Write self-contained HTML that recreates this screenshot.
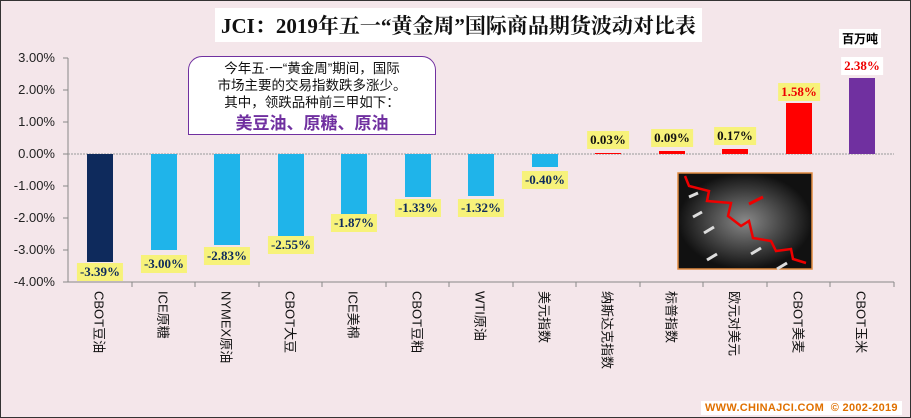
<!DOCTYPE html>
<html><head><meta charset="utf-8"><style>
body{margin:0}
#c{position:relative;width:909px;height:416px;border:1px solid #333;background:#f4e6ea;overflow:hidden;font-family:"Liberation Sans","Noto Sans CJK SC",sans-serif}
.t{position:absolute;left:214px;top:7px;background:#fff;padding:2px 6px;font:bold 21px "Liberation Serif","Noto Serif CJK SC",serif;color:#111;white-space:nowrap}
.yl{position:absolute;left:4px;width:50px;text-align:right;font-size:13px;color:#222}
.bar{position:absolute;width:26px}
.v{position:absolute;background:#f7f27a;font:bold 13px "Liberation Serif",serif;padding:1px 3px;white-space:nowrap;transform:translateX(-50%)}
.xl{position:absolute;top:290px;writing-mode:vertical-rl;text-orientation:sideways;font-size:13px;color:#111;transform:translateX(-50%)}
.box{position:absolute;left:187px;top:55px;width:248px;height:79px;background:#fff;border:1px solid #7030a0;border-radius:14px 14px 0 0;text-align:center;font-size:13.5px;line-height:17px;color:#111;padding-top:3px;box-sizing:border-box}
</style></head><body><div id="c">
<div class="t">JCI：2019年五一“黄金周”国际商品期货波动对比表</div>
<div style="position:absolute;left:838px;top:28px;font:bold 12px 'Liberation Sans','Noto Sans CJK SC',sans-serif;background:#fff;padding:1px 3px">百万吨</div>
<svg style="position:absolute;left:0;top:0" width="909" height="416">
<line x1="67" y1="57" x2="67" y2="281" stroke="#888"/>
<g stroke="#888">
<line x1="62" y1="57" x2="67" y2="57"/><line x1="62" y1="89" x2="67" y2="89"/><line x1="62" y1="121" x2="67" y2="121"/><line x1="62" y1="153" x2="67" y2="153"/><line x1="62" y1="185" x2="67" y2="185"/><line x1="62" y1="217" x2="67" y2="217"/><line x1="62" y1="249" x2="67" y2="249"/><line x1="62" y1="281" x2="67" y2="281"/>
</g>
<line x1="67" y1="153" x2="893" y2="153" stroke="#999" stroke-dasharray="2,1"/>
<line x1="67" y1="281" x2="893" y2="281" stroke="#888"/>
<g stroke="#888">
<line x1="131" y1="281" x2="131" y2="286"/><line x1="194" y1="281" x2="194" y2="286"/><line x1="258" y1="281" x2="258" y2="286"/><line x1="321" y1="281" x2="321" y2="286"/><line x1="385" y1="281" x2="385" y2="286"/><line x1="448" y1="281" x2="448" y2="286"/><line x1="512" y1="281" x2="512" y2="286"/><line x1="575" y1="281" x2="575" y2="286"/><line x1="639" y1="281" x2="639" y2="286"/><line x1="702" y1="281" x2="702" y2="286"/><line x1="766" y1="281" x2="766" y2="286"/><line x1="829" y1="281" x2="829" y2="286"/><line x1="893" y1="281" x2="893" y2="286"/>
</g>
<defs><radialGradient id="g"><stop offset="0" stop-color="#888"/><stop offset="1" stop-color="#111"/></radialGradient></defs>
<rect x="677" y="172" width="134" height="96" fill="url(#g)" stroke="#e08a40" stroke-width="1.5"/>
<polyline points="684,175 688,185 708,190 706,200 730,202 727,215 740,225 748,220 752,237 770,240 775,250 790,248 792,258 805,262" fill="none" stroke="#e00" stroke-width="2.5"/>
<line x1="748" y1="203" x2="762" y2="196" stroke="#e00" stroke-width="3"/>
<g stroke="#ddd" stroke-width="3"><line x1="697" y1="192" x2="688" y2="196"/><line x1="701" y1="211" x2="692" y2="216"/><line x1="713" y1="226" x2="703" y2="232"/><line x1="716" y1="253" x2="706" y2="259"/><line x1="760" y1="247" x2="750" y2="253"/><line x1="786" y1="262" x2="776" y2="268"/></g>
</svg>
<div class="yl" style="top:49px">3.00%</div><div class="yl" style="top:81px">2.00%</div><div class="yl" style="top:113px">1.00%</div><div class="yl" style="top:145px">0.00%</div><div class="yl" style="top:177px">-1.00%</div><div class="yl" style="top:209px">-2.00%</div><div class="yl" style="top:241px">-3.00%</div><div class="yl" style="top:273px">-4.00%</div>
<div class="box">今年五·一“黄金周”期间，国际<br>市场主要的交易指数跌多涨少。<br>其中，领跌品种前三甲如下：<div style="color:#7030a0;font-weight:bold;font-size:17px;margin-top:4px">美豆油、原糖、原油</div></div>
<div class="bar" style="left:86px;top:153px;height:108px;background:#0e2a5c"></div>
<div class="bar" style="left:150px;top:153px;height:96px;background:#1fb4ea"></div>
<div class="bar" style="left:213px;top:153px;height:91px;background:#1fb4ea"></div>
<div class="bar" style="left:277px;top:153px;height:82px;background:#1fb4ea"></div>
<div class="bar" style="left:340px;top:153px;height:60px;background:#1fb4ea"></div>
<div class="bar" style="left:404px;top:153px;height:43px;background:#1fb4ea"></div>
<div class="bar" style="left:467px;top:153px;height:42px;background:#1fb4ea"></div>
<div class="bar" style="left:531px;top:153px;height:13px;background:#1fb4ea"></div>
<div class="bar" style="left:594px;top:152px;height:1px;background:#f00"></div>
<div class="bar" style="left:658px;top:150px;height:3px;background:#f00"></div>
<div class="bar" style="left:721px;top:148px;height:5px;background:#f00"></div>
<div class="bar" style="left:785px;top:102px;height:51px;background:#f00"></div>
<div class="bar" style="left:848px;top:77px;height:76px;background:#7030a0"></div>
<div class="v" style="left:99px;top:262px;color:#0e2a5c">-3.39%</div>
<div class="v" style="left:163px;top:254px;color:#0e2a5c">-3.00%</div>
<div class="v" style="left:226px;top:246px;color:#0e2a5c">-2.83%</div>
<div class="v" style="left:290px;top:235px;color:#0e2a5c">-2.55%</div>
<div class="v" style="left:353px;top:213px;color:#0e2a5c">-1.87%</div>
<div class="v" style="left:417px;top:198px;color:#0e2a5c">-1.33%</div>
<div class="v" style="left:480px;top:198px;color:#0e2a5c">-1.32%</div>
<div class="v" style="left:544px;top:170px;color:#0e2a5c">-0.40%</div>
<div class="v" style="left:607px;top:130px;color:#111">0.03%</div>
<div class="v" style="left:671px;top:128px;color:#111">0.09%</div>
<div class="v" style="left:734px;top:126px;color:#111">0.17%</div>
<div class="v" style="left:798px;top:82px;color:#e00">1.58%</div>
<div class="v" style="left:861px;top:56px;color:#e00;background:#fff">2.38%</div>
<div class="xl" style="left:99px">CBOT豆油</div>
<div class="xl" style="left:163px">ICE原糖</div>
<div class="xl" style="left:226px">NYMEX原油</div>
<div class="xl" style="left:290px">CBOT大豆</div>
<div class="xl" style="left:353px">ICE美棉</div>
<div class="xl" style="left:417px">CBOT豆粕</div>
<div class="xl" style="left:480px">WTI原油</div>
<div class="xl" style="left:544px">美元指数</div>
<div class="xl" style="left:607px">纳斯达克指数</div>
<div class="xl" style="left:671px">标普指数</div>
<div class="xl" style="left:734px">欧元对美元</div>
<div class="xl" style="left:798px">CBOT美麦</div>
<div class="xl" style="left:861px">CBOT玉米</div>
<div style="position:absolute;left:700px;top:400px;background:#fff;color:#e07000;font:bold 11px 'Liberation Sans',sans-serif;padding:1px 4px;letter-spacing:0.3px">WWW.CHINAJCI.COM &nbsp;© 2002-2019</div>
</div></body></html>
